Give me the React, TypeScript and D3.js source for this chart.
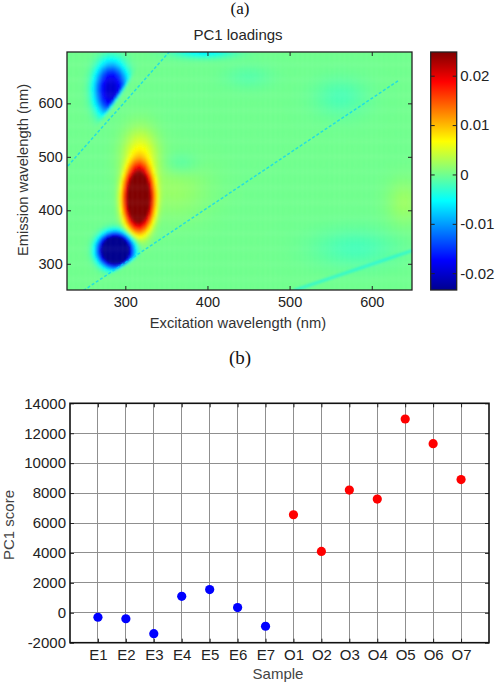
import { useEffect, useRef } from "react";
import * as d3 from "d3";

// ---------- (a) PC1 loadings map ----------
const exDomain = [229, 649];
const emDomain = [251, 696];
const exTicks = [300, 400, 500, 600];
const emTicks = [300, 400, 500, 600];
const cbarDomain = [-0.0234, 0.0248];
const cbarTicks = [-0.02, -0.01, 0, 0.01, 0.02];

// jet colormap stops
const jetStops = [0, 0.125, 0.375, 0.625, 0.875, 1];
const jetColors = ["#00008f", "#0000ff", "#00ffff", "#ffff00", "#ff0000", "#800000"];

// peaks: [ex, em, sigmaEx, sigmaEm, amplitude, flatness, cut]
// cut 0: none, 1: removed below em = ex, 2: removed below em = 2.2 ex - 26
const loadingPeaks: number[][] = [
  [316, 421, 15.4, 50, 0.032, 1.64, 0],
  [318, 500, 14, 35, 0.007, 1, 0],
  [288, 326, 17.3, 26, -0.035, 1.6, 1],
  [283, 626, 16, 40, -0.02, 1.4, 2],
  [395, 697, 25, 8, -0.006, 1, 0],
  [367, 488, 15, 15, -0.0015, 1, 0],
  [562, 612, 22, 25, -0.0018, 1, 0],
  [580, 330, 35, 25, -0.002, 1, 0],
  [640, 415, 15, 30, 0.002, 1, 0],
  [450, 650, 20, 15, -0.0012, 1, 0],
  [360, 440, 30, 40, 0.0018, 1, 0],
];

// scatter lines [ex0, em0, ex1, em1]
const rayleighLines: number[][] = [
  [249, 250, 632, 642],
  [230, 483, 354, 697],
];
const halfOrderLine = [505, 250, 650, 325];

// ---------- (b) PC1 scores ----------
const samples = ["E1", "E2", "E3", "E4", "E5", "E6", "E7", "O1", "O2", "O3", "O4", "O5", "O6", "O7"];
const scores = [-300, -400, -1400, 1100, 1550, 350, -900, 6550, 4100, 8200, 7600, 12950, 11300, 8900];
const scoreTicks = [-2000, 0, 2000, 4000, 6000, 8000, 10000, 12000, 14000];

const sig = (t: number) => 1 / (1 + Math.exp(-t));

function loading(ex: number, em: number) {
  let v = 0;
  for (const [cx, cy, sx, sy, a, p, cut] of loadingPeaks) {
    const dx = (ex - cx) / sx;
    const dy = (em - cy) / sy;
    let w = Math.exp(-0.5 * Math.pow(dx * dx + dy * dy, p));
    if (cut === 1) w *= sig((em - ex) / 1.5);
    if (cut === 2) w *= sig((em - (2.2 * ex - 26)) / 2.5);
    v += a * w;
  }
  return v;
}

const App = () => {
  const svgRef = useRef<SVGSVGElement | null>(null);

  useEffect(() => {
    if (!svgRef.current) return;
    const svg = d3.select(svgRef.current);
    svg.selectAll("*").remove();
    const font = "Arial, 'Liberation Sans', Helvetica, sans-serif";

    // ===== (a) =====
    const m = { left: 67, right: 412, top: 52, bottom: 290 };
    const x = d3.scaleLinear().domain(exDomain).range([m.left, m.right]);
    const y = d3.scaleLinear().domain(emDomain).range([m.bottom, m.top]);
    const cspan = cbarDomain[1] - cbarDomain[0];
    const color = d3
      .scaleLinear<string>()
      .domain(jetStops.map((t) => cbarDomain[0] + t * cspan))
      .range(jetColors)
      .interpolate(d3.interpolateRgb)
      .clamp(true);

    const defs = svg.append("defs");
    defs
      .append("clipPath")
      .attr("id", "mapClip")
      .append("rect")
      .attr("x", m.left)
      .attr("y", m.top)
      .attr("width", m.right - m.left)
      .attr("height", m.bottom - m.top);
    defs.append("filter").attr("id", "soft").append("feGaussianBlur").attr("stdDeviation", 0.9);
    defs.append("filter").attr("id", "soft2").append("feGaussianBlur").attr("stdDeviation", 1.2);
    const grad = defs
      .append("linearGradient")
      .attr("id", "jet")
      .attr("x1", 0)
      .attr("y1", 1)
      .attr("x2", 0)
      .attr("y2", 0);
    grad
      .selectAll("stop")
      .data(jetStops)
      .join("stop")
      .attr("offset", (d) => d)
      .attr("stop-color", (_, i) => jetColors[i]);

    const stepEx = 3;
    const stepEm = 4;
    const cells: { ex: number; em: number; v: number }[] = [];
    for (let ex = exDomain[0] - 9; ex <= exDomain[1] + 9; ex += stepEx) {
      for (let em = emDomain[0] - 12; em <= emDomain[1] + 12; em += stepEm) {
        cells.push({ ex, em, v: loading(ex, em) });
      }
    }
    const cw = x(stepEx) - x(0) + 0.4;
    const ch = y(0) - y(stepEm) + 0.4;

    const map = svg.append("g").attr("clip-path", "url(#mapClip)");
    const inner = map.append("g").attr("filter", "url(#soft)");
    inner
      .selectAll("rect")
      .data(cells)
      .join("rect")
      .attr("x", (d) => x(d.ex - stepEx / 2))
      .attr("y", (d) => y(d.em + stepEm / 2))
      .attr("width", cw)
      .attr("height", ch)
      .attr("fill", (d) => color(d.v));

    const seg = d3
      .line<number[]>()
      .x((d) => x(d[0]))
      .y((d) => y(d[1]));
    map
      .append("path")
      .attr("d", seg([[halfOrderLine[0], halfOrderLine[1]], [halfOrderLine[2], halfOrderLine[3]]]))
      .attr("stroke", color(-0.006))
      .attr("stroke-width", 3)
      .attr("opacity", 0.5)
      .attr("filter", "url(#soft2)")
      .attr("fill", "none");
    map
      .selectAll("path.ray")
      .data(rayleighLines)
      .join("path")
      .attr("class", "ray")
      .attr("d", (d) => seg([[d[0], d[1]], [d[2], d[3]]]))
      .attr("stroke", color(-0.0075))
      .attr("stroke-width", 1.5)
      .attr("stroke-dasharray", "3 2")
      .attr("opacity", 0.7)
      .attr("fill", "none");

    const styleAxis = (g: d3.Selection<SVGGElement, unknown, null, undefined>, size: number) => {
      g.select(".domain").remove();
      g.selectAll("line").attr("stroke", "#222");
      g.selectAll("text").attr("fill", "#222").style("font-size", `${size}px`).style("font-family", font);
    };

    svg
      .append("g")
      .attr("transform", `translate(0,${m.bottom})`)
      .call(d3.axisBottom(x).tickValues(exTicks).tickSize(-4).tickPadding(6.5))
      .call((g) => styleAxis(g, 14.5));
    svg
      .append("g")
      .attr("transform", `translate(0,${m.top})`)
      .call(d3.axisTop(x).tickValues(exTicks).tickSize(-4).tickFormat(() => ""))
      .call((g) => styleAxis(g, 14.5));
    svg
      .append("g")
      .attr("transform", `translate(${m.left},0)`)
      .call(d3.axisLeft(y).tickValues(emTicks).tickSize(-4).tickPadding(4.3))
      .call((g) => styleAxis(g, 14.5));
    svg
      .append("g")
      .attr("transform", `translate(${m.right},0)`)
      .call(d3.axisRight(y).tickValues(emTicks).tickSize(-4).tickFormat(() => ""))
      .call((g) => styleAxis(g, 14.5));
    svg
      .append("rect")
      .attr("x", m.left)
      .attr("y", m.top)
      .attr("width", m.right - m.left)
      .attr("height", m.bottom - m.top)
      .attr("fill", "none")
      .attr("stroke", "#222")
      .attr("stroke-width", 1.3);

    // colorbar
    const cb = { left: 430.7, right: 456.7 };
    const cy = d3.scaleLinear().domain(cbarDomain).range([m.bottom, m.top]);
    svg
      .append("rect")
      .attr("x", cb.left)
      .attr("y", m.top)
      .attr("width", cb.right - cb.left)
      .attr("height", m.bottom - m.top)
      .attr("fill", "url(#jet)")
      .attr("stroke", "#222")
      .attr("stroke-width", 1.3);
    svg
      .append("g")
      .attr("transform", `translate(${cb.right},0)`)
      .call(d3.axisRight(cy).tickValues(cbarTicks).tickSize(-4).tickPadding(3.5).tickFormat((d) => String(d)))
      .call((g) => styleAxis(g, 15));
    svg
      .append("g")
      .attr("transform", `translate(${cb.left},0)`)
      .call(d3.axisLeft(cy).tickValues(cbarTicks).tickSize(-4).tickFormat(() => ""))
      .call((g) => styleAxis(g, 15));

    // titles (a)
    svg
      .append("text")
      .attr("x", 240)
      .attr("y", 13.5)
      .attr("text-anchor", "middle")
      .style("font-family", "'Liberation Serif', 'Times New Roman', serif")
      .style("font-size", "17px")
      .attr("fill", "#111")
      .text("(a)");
    svg
      .append("text")
      .attr("x", 238)
      .attr("y", 40)
      .attr("text-anchor", "middle")
      .style("font-family", font)
      .style("font-size", "15px")
      .attr("fill", "#262626")
      .text("PC1 loadings");
    svg
      .append("text")
      .attr("x", 238)
      .attr("y", 328)
      .attr("text-anchor", "middle")
      .style("font-family", font)
      .style("font-size", "14.7px")
      .attr("fill", "#333")
      .text("Excitation wavelength (nm)");
    svg
      .append("text")
      .attr("transform", "translate(27.5,170) rotate(-90)")
      .attr("text-anchor", "middle")
      .style("font-family", font)
      .style("font-size", "14.7px")
      .attr("fill", "#333")
      .text("Emission wavelength (nm)");

    // ===== (b) =====
    const b = { left: 70, right: 489, top: 403.3, bottom: 642.7 };
    const bx = d3.scaleLinear().domain([0, samples.length + 1]).range([b.left, b.right]);
    const by = d3.scaleLinear().domain([-2000, 14000]).range([b.bottom, b.top]);
    const idx = samples.map((_, i) => i + 1);

    const grid = svg.append("g").attr("stroke", "#8f8f8f").attr("stroke-width", 1).attr("shape-rendering", "crispEdges");
    grid
      .selectAll("line.v")
      .data(idx)
      .join("line")
      .attr("class", "v")
      .attr("x1", (d) => bx(d))
      .attr("x2", (d) => bx(d))
      .attr("y1", b.top)
      .attr("y2", b.bottom);
    grid
      .selectAll("line.h")
      .data(scoreTicks.slice(1, -1))
      .join("line")
      .attr("class", "h")
      .attr("x1", b.left)
      .attr("x2", b.right)
      .attr("y1", (d) => by(d))
      .attr("y2", (d) => by(d));

    svg
      .append("g")
      .attr("transform", `translate(0,${b.bottom})`)
      .call(
        d3
          .axisBottom(bx)
          .tickValues(idx)
          .tickSize(-4)
          .tickPadding(6.6)
          .tickFormat((d) => samples[(d as number) - 1])
      )
      .call((g) => styleAxis(g, 15));
    svg
      .append("g")
      .attr("transform", `translate(0,${b.top})`)
      .call(d3.axisTop(bx).tickValues(idx).tickSize(-4).tickFormat(() => ""))
      .call((g) => styleAxis(g, 15));
    svg
      .append("g")
      .attr("transform", `translate(${b.left},0)`)
      .call(d3.axisLeft(by).tickValues(scoreTicks).tickSize(-4).tickPadding(4).tickFormat((d) => String(d)))
      .call((g) => styleAxis(g, 15));
    svg
      .append("g")
      .attr("transform", `translate(${b.right},0)`)
      .call(d3.axisRight(by).tickValues(scoreTicks).tickSize(-4).tickFormat(() => ""))
      .call((g) => styleAxis(g, 15));
    svg
      .append("rect")
      .attr("x", b.left)
      .attr("y", b.top)
      .attr("width", b.right - b.left)
      .attr("height", b.bottom - b.top)
      .attr("fill", "none")
      .attr("stroke", "#111")
      .attr("stroke-width", 1.6);

    svg
      .append("g")
      .selectAll("circle")
      .data(scores)
      .join("circle")
      .attr("cx", (_, i) => bx(i + 1))
      .attr("cy", (d) => by(d))
      .attr("r", 4.6)
      .attr("fill", (_, i) => (samples[i].startsWith("E") ? "#0000ff" : "#ff0000"));

    svg
      .append("text")
      .attr("x", 240)
      .attr("y", 363.5)
      .attr("text-anchor", "middle")
      .style("font-family", "'Liberation Serif', 'Times New Roman', serif")
      .style("font-size", "19px")
      .attr("fill", "#111")
      .text("(b)");
    svg
      .append("text")
      .attr("x", 278)
      .attr("y", 679)
      .attr("text-anchor", "middle")
      .style("font-family", font)
      .style("font-size", "15px")
      .attr("fill", "#444")
      .text("Sample");
    svg
      .append("text")
      .attr("transform", "translate(13.5,525) rotate(-90)")
      .attr("text-anchor", "middle")
      .style("font-family", font)
      .style("font-size", "15px")
      .attr("fill", "#444")
      .text("PC1 score");
  }, []);

  return (
    <svg
      ref={svgRef}
      width={497}
      height={685}
      style={{ position: "absolute", left: 0, top: 0, background: "#fff" }}
    />
  );
};

export default App;
